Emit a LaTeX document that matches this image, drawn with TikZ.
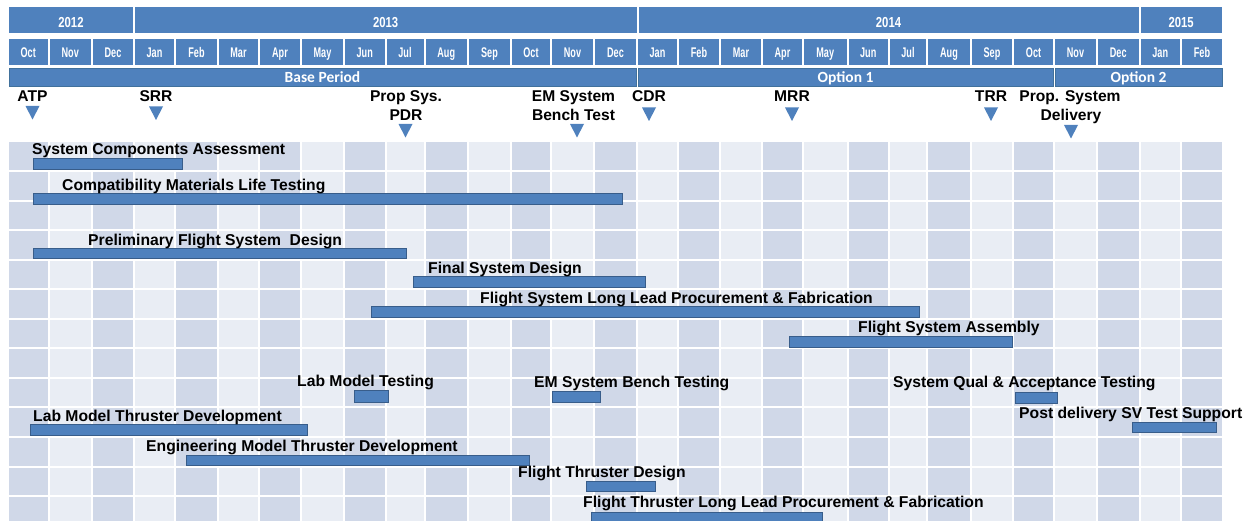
\documentclass[tikz,border=0pt]{standalone}
\usepackage{fontspec}
\usepackage{graphicx}
\setmainfont{Liberation Sans}
\newfontfamily\carl{Carlito}
\definecolor{hdr}{HTML}{4F81BD}
\definecolor{cellD}{HTML}{D0D8E8}
\definecolor{cellL}{HTML}{E9EDF4}
\definecolor{barline}{HTML}{385D8A}
\definecolor{perline}{HTML}{41719C}
\tikzset{
  perbox/.style={fill=hdr, draw=perline, line width=0.6pt},
  yearlbl/.style={text=white, inner sep=0, anchor=base, font=\fontsize{14.5}{16}\selectfont\bfseries},
  monlbl/.style={text=white, inner sep=0, anchor=base, font=\fontsize{14}{16}\selectfont\bfseries},
  perlbl/.style={text=white, inner sep=0, anchor=base, font=\carl\fontsize{15.5}{17}\selectfont\bfseries},
  tasklbl/.style={inner sep=0, anchor=base west, font=\fontsize{15.7}{18}\selectfont\bfseries},
  mslbl/.style={inner sep=0, anchor=base, font=\fontsize{15.6}{18}\selectfont\bfseries},
  taskbar/.style={fill=hdr, draw=barline, line width=0.8pt},
  mstri/.pic={\fill[hdr] (-7,0) -- (7,0) -- (0,13.5) -- cycle;}
}
\begin{document}
\begin{tikzpicture}[x=1pt,y=-1pt]
\useasboundingbox (0,0) rectangle (1251,521);
% year row
\fill[hdr] (9,7.3) rectangle (133,33.3);
\fill[hdr] (135,7.3) rectangle (636.5,33.3);
\fill[hdr] (638.5,7.3) rectangle (1138.5,33.3);
\fill[hdr] (1140.5,7.3) rectangle (1222,33.3);
\node[yearlbl] (y2012) at (71,27.3) {\scalebox{0.78}[1]{2012}};
\node[yearlbl] (y2013) at (385.7,27.3) {\scalebox{0.78}[1]{2013}};
\node[yearlbl] (y2014) at (888.5,27.3) {\scalebox{0.78}[1]{2014}};
\node[yearlbl] (y2015) at (1181.2,27.3) {\scalebox{0.78}[1]{2015}};
% month row + grid
\begin{scope}
\clip (0,0) rectangle (1251,521);
\foreach \a/\b/\m/\c [count=\i] in {8/48.5/Oct/D, 48.5/92/Nov/L, 92/134/Dec/D, 134/175/Jan/L, 175/218/Feb/D, 218/259/Mar/L, 259/301/Apr/D, 301/344/May/L, 344/385.5/Jun/D, 385.5/424.5/Jul/L, 424.5/468/Aug/D, 468/511/Sep/L, 511/551/Oct/D, 551/594/Nov/L, 594/637/Dec/D, 637/678/Jan/L, 678/720/Feb/D, 720/762/Mar/L, 762/803/Apr/D, 803/847.5/May/L, 847.5/889/Jun/D, 889/927/Jul/L, 927/971/Aug/D, 971/1013/Sep/L, 1013/1054/Oct/D, 1054/1097/Nov/L, 1097/1139.5/Dec/D, 1139.5/1181/Jan/L, 1181/1223/Feb/D} {
  \fill[hdr] (\a+1,39) rectangle (\b-1,65);
  \node[monlbl] (mon\i) at ({(\a+\b)/2},57.2) {\scalebox{0.65}[1]{\m}};
  \foreach \r in {0,...,12} {
    \fill[cell\c] (\a+1,{141.5+29.55*\r+1}) rectangle (\b-1,{141.5+29.55*(\r+1)-1});
  }
}
% bars
\draw[taskbar] (33,158) rectangle (182,169);
\draw[taskbar] (33,193.3) rectangle (622.5,204);
\draw[taskbar] (33,248) rectangle (406,258);
\draw[taskbar] (413,276) rectangle (645,287);
\draw[taskbar] (371,306.5) rectangle (919,317);
\draw[taskbar] (789,336) rectangle (1012,347);
\draw[taskbar] (354,390.5) rectangle (388,402);
\draw[taskbar] (552,391.5) rectangle (600,402.5);
\draw[taskbar] (1015,392) rectangle (1057,403);
\draw[taskbar] (30,424) rectangle (307,435);
\draw[taskbar] (1132,422) rectangle (1216,432);
\draw[taskbar] (186,455) rectangle (529,465.5);
\draw[taskbar] (586,481) rectangle (655,491);
\draw[taskbar] (591,512) rectangle (822,530);
\end{scope}
% period row
\draw[perbox] (9,68.5) rectangle (636.5,86);
\draw[perbox] (638.5,68.5) rectangle (1053,86);
\draw[perbox] (1055,68.5) rectangle (1222,86);
\node[perlbl] (pbase) at (322.5,82.5) {Base Period};
\node[perlbl] (popt1) at (845.5,82.5) {Option 1};
\node[perlbl] (popt2) at (1138.5,82.5) {Option 2};
% milestones
\node[mslbl] (atp) at (32.5,101.5) {ATP};
\node[mslbl] (srr) at (156,101.5) {SRR};
\node[mslbl] (pdra) at (406,101.5) {Prop Sys.};
\node[mslbl] (pdrb) at (406,120.5) {PDR};
\node[mslbl] (ema) at (573.5,101.5) {EM System};
\node[mslbl] (emb) at (573.5,120.5) {Bench Test};
\node[mslbl] (cdr) at (649,101.5) {CDR};
\node[mslbl] (mrr) at (792,101.5) {MRR};
\node[mslbl] (trr) at (991,101.5) {TRR};
\node[mslbl] (dela) at (1070,101.5) {Prop. System};
\node[mslbl] (delb) at (1071,120.5) {Delivery};
\pic at (32.5,106) {mstri};
\pic at (156,106.5) {mstri};
\pic at (405.5,124) {mstri};
\pic at (577,124) {mstri};
\pic at (649,107.5) {mstri};
\pic at (792,107.5) {mstri};
\pic at (991,107.5) {mstri};
\pic at (1071,125) {mstri};
% task labels
\node[tasklbl] (t1) at (32,155) {System Components Assessment};
\node[tasklbl] (t2) at (62,191) {Compatibility Materials Life Testing};
\node[tasklbl] (t3) at (88,245.5) {Preliminary Flight System~ Design};
\node[tasklbl] (t4) at (428,274) {Final System Design};
\node[tasklbl] (t5) at (480,304) {Flight System Long Lead Procurement \& Fabrication};
\node[tasklbl] (t6) at (858,333) {Flight System Assembly};
\node[tasklbl] (t7) at (297,386.5) {Lab Model Testing};
\node[tasklbl] (t8) at (534,387.5) {EM System Bench Testing};
\node[tasklbl] (t9) at (893,387.5) {System Qual \& Acceptance Testing};
\node[tasklbl] (t10) at (33,421) {Lab Model Thruster Development};
\node[tasklbl] (t11) at (1019,418) {Post delivery SV Test Support};
\node[tasklbl] (t12) at (146,451) {Engineering Model Thruster Development};
\node[tasklbl] (t13) at (518,477.5) {Flight Thruster Design};
\node[tasklbl] (t14) at (583,507.5) {Flight Thruster Long Lead Procurement \& Fabrication};
\end{tikzpicture}
\end{document}
